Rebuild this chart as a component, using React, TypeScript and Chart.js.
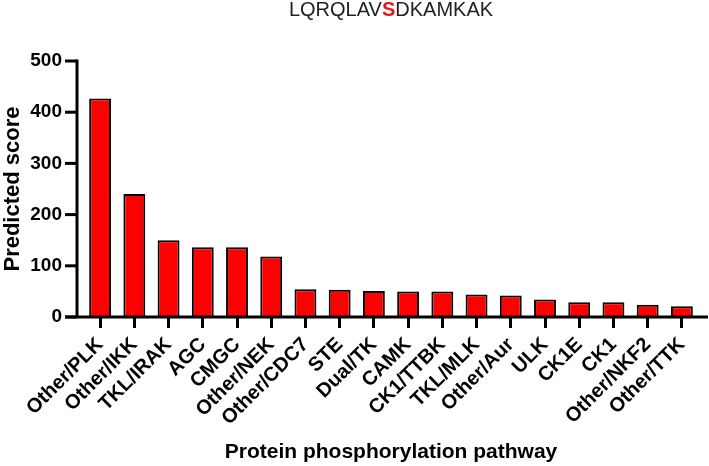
import { useEffect, useRef } from "react";
import { Chart, registerables } from "chart.js";

Chart.register(...registerables);

const categories = [
  "Other/PLK", "Other/IKK", "TKL/IRAK", "AGC", "CMGC", "Other/NEK", "Other/CDC7", "STE", "Dual/TK",
  "CAMK", "CK1/TTBK", "TKL/MLK", "Other/Aur", "ULK", "CK1E", "CK1", "Other/NKF2", "Other/TTK",
];
const scores = [427, 240, 150, 136, 136, 118, 54, 53, 51, 50, 50, 44, 42, 34, 29, 29, 24, 21];
const yTickValues = [0, 100, 200, 300, 400, 500];
const titleBefore = "LQRQLAV";
const titleSite = "S";
const titleAfter = "DKAMKAK";
const xTitle = "Protein phosphorylation pathway";
const yTitle = "Predicted score";

const FONT = "'Liberation Sans', Arial, Helvetica, sans-serif";

const prismPlugin = {
  id: "prismAxes",
  afterDatasetsDraw(chart: any) {
    const { ctx, chartArea, scales } = chart;
    const y = scales.y;
    const axisX = chartArea.left - 6;
    const y0 = y.getPixelForValue(0);
    const yTop = y.getPixelForValue(yTickValues[yTickValues.length - 1]);
    ctx.save();
    ctx.strokeStyle = "#000";
    ctx.lineWidth = 3;
    ctx.lineCap = "butt";
    ctx.beginPath();
    ctx.moveTo(axisX, yTop - 1.5);
    ctx.lineTo(axisX, y0);
    ctx.stroke();
    ctx.beginPath();
    ctx.moveTo(axisX - 12, y0);
    ctx.lineTo(chartArea.right + 9, y0);
    ctx.stroke();
    for (const v of yTickValues) {
      const py = y.getPixelForValue(v);
      ctx.beginPath();
      ctx.moveTo(axisX - 12, py);
      ctx.lineTo(axisX, py);
      ctx.stroke();
    }
    ctx.restore();
  },
  afterDraw(chart: any) {
    const { ctx } = chart;
    ctx.save();
    ctx.textBaseline = "middle";
    ctx.textAlign = "left";
    const regular = `20px ${FONT}`;
    const bold = `bold 20px ${FONT}`;
    ctx.font = regular;
    const w1 = ctx.measureText(titleBefore).width;
    const w3 = ctx.measureText(titleAfter).width;
    ctx.font = bold;
    const w2 = ctx.measureText(titleSite).width;
    const total = w1 + w2 + w3;
    let x = 391 - total / 2;
    const ty = 10;
    ctx.font = regular;
    ctx.fillStyle = "#222";
    ctx.fillText(titleBefore, x, ty);
    x += w1;
    ctx.font = bold;
    ctx.fillStyle = "#e8141b";
    ctx.fillText(titleSite, x, ty);
    x += w2;
    ctx.font = regular;
    ctx.fillStyle = "#222";
    ctx.fillText(titleAfter, x, ty);
    ctx.restore();
  },
};

export default function App() {
  const ref = useRef<HTMLCanvasElement | null>(null);
  useEffect(() => {
    if (!ref.current) return;
    const chart = new Chart(ref.current, {
      type: "bar",
      data: {
        labels: categories,
        datasets: [
          {
            data: scores,
            backgroundColor: "#ff0000",
            borderColor: "#000",
            borderWidth: 2,
            borderSkipped: "start",
            categoryPercentage: 1,
            barPercentage: 0.64,
          },
        ],
      },
      options: {
        animation: false,
        responsive: true,
        maintainAspectRatio: false,
        layout: { padding: { top: 61, right: 10, left: 0, bottom: 0 } },
        plugins: { legend: { display: false }, tooltip: { enabled: false }, title: { display: false } },
        scales: {
          x: {
            type: "category",
            afterFit: (s: any) => {
              s.height = 149;
            },
            border: { display: false },
            grid: {
              display: true,
              drawOnChartArea: false,
              drawTicks: true,
              tickLength: 11,
              lineWidth: 3,
              color: "#000",
              offset: false,
            },
            ticks: {
              autoSkip: false,
              maxRotation: 45,
              minRotation: 45,
              padding: 5,
              color: "#000",
              font: { family: FONT, size: 20, weight: "bold" },
            },
            title: {
              display: true,
              text: xTitle,
              color: "#000",
              font: { family: FONT, size: 21, weight: "bold" },
              padding: { top: 0, bottom: 1 },
            },
          },
          y: {
            min: 0,
            max: 500,
            afterFit: (s: any) => {
              s.width = 83;
            },
            afterBuildTicks: (s: any) => {
              s.ticks = yTickValues.map((v) => ({ value: v }));
            },
            border: { display: false },
            grid: { display: false, drawTicks: false },
            ticks: {
              padding: 21,
              color: "#000",
              font: { family: FONT, size: 19, weight: "bold" },
            },
            title: {
              display: true,
              text: yTitle,
              color: "#000",
              font: { family: FONT, size: 22, weight: "bold" },
              padding: { top: 0, bottom: 0 },
            },
          },
        },
      },
      plugins: [prismPlugin],
    });
    return () => chart.destroy();
  }, []);
  return (
    <div style={{ position: "fixed", left: 0, top: 0, width: 709, height: 466, background: "#fff" }}>
      <canvas ref={ref} />
    </div>
  );
}
